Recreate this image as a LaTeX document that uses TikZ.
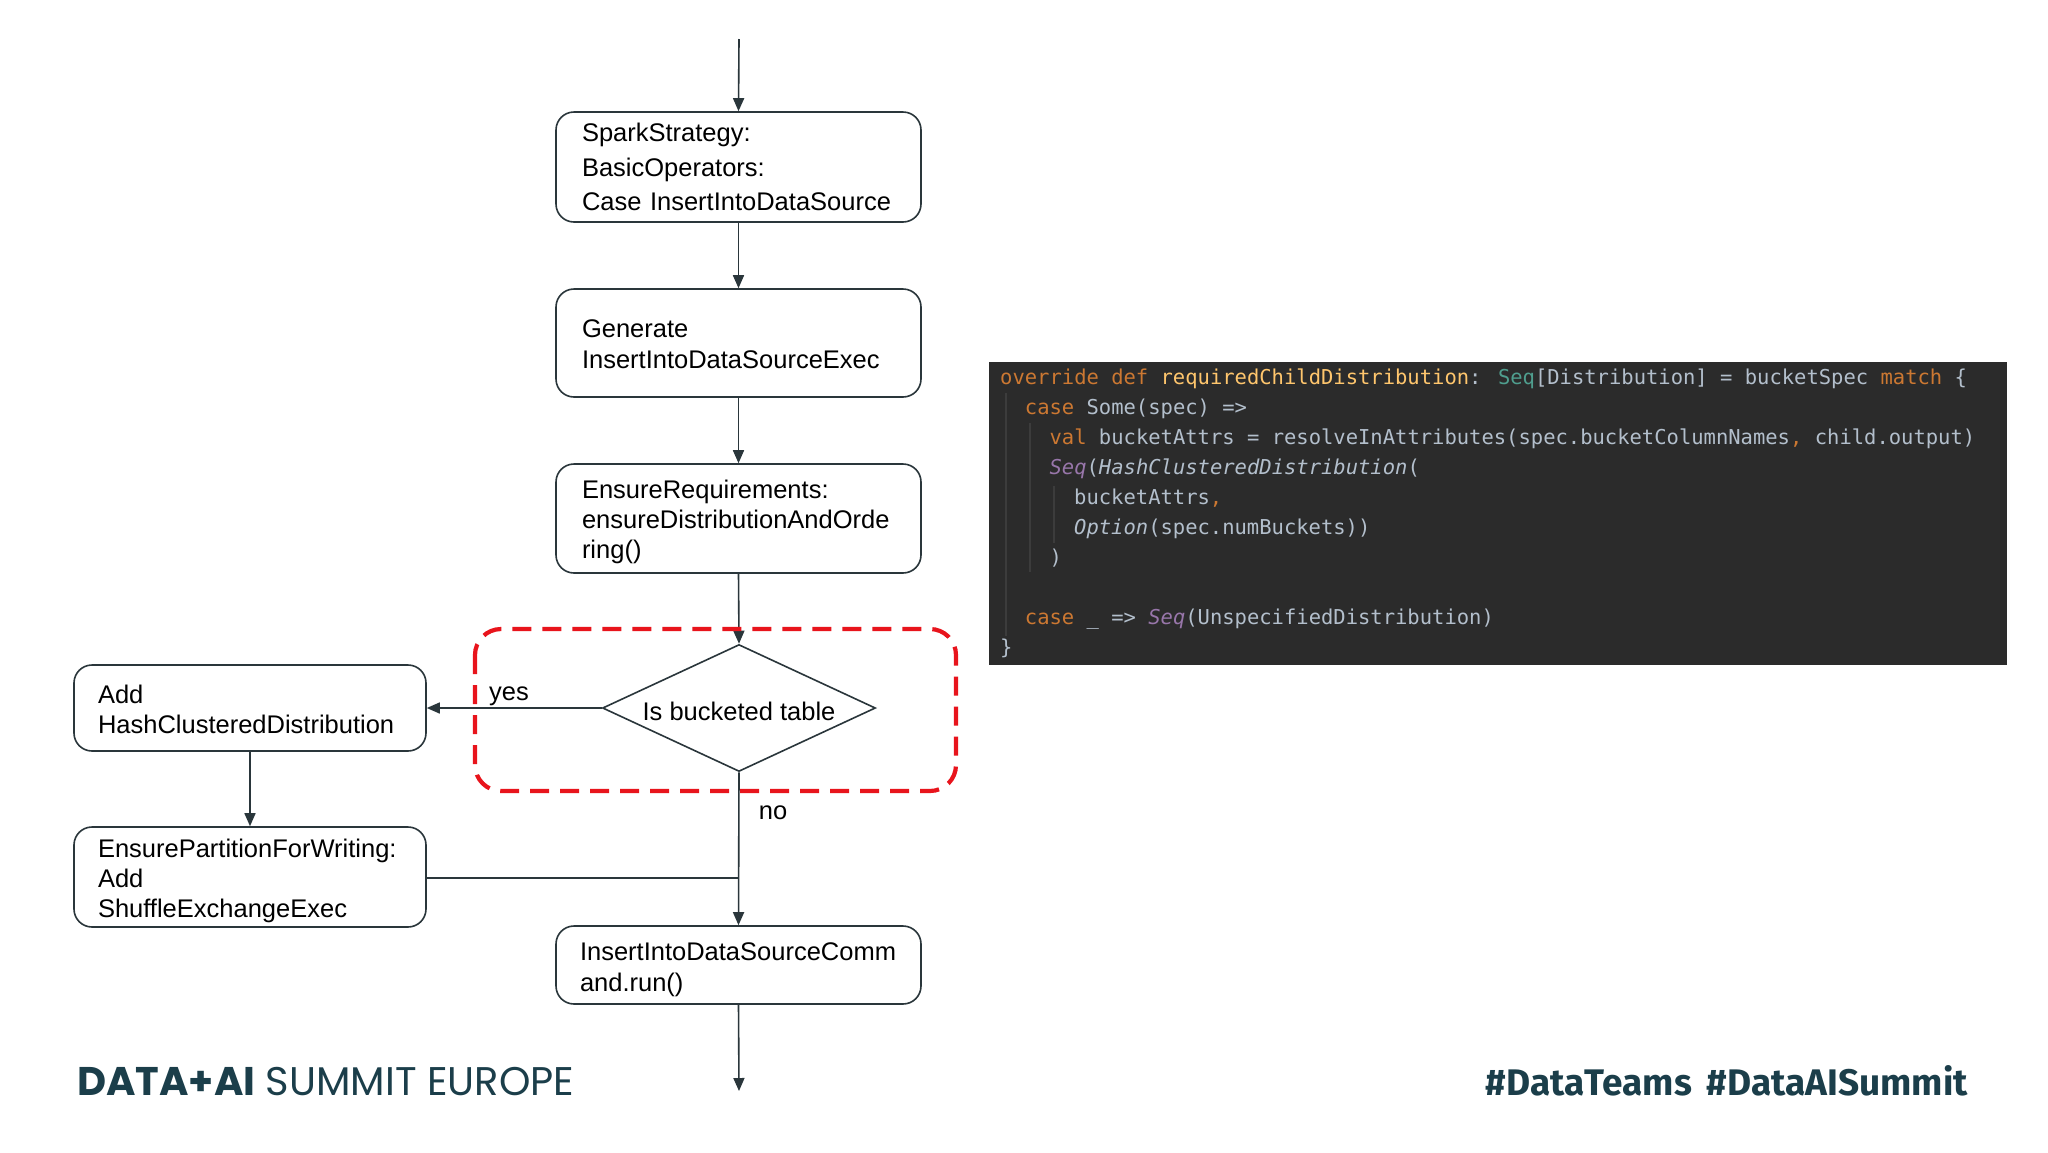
\documentclass[tikz,border=0pt]{standalone}
\usepackage{fontspec}
\setmainfont{Liberation Sans}
\newfontfamily\codefont{DejaVu Sans Mono}
\newfontfamily\brandfont{Poppins}
\newfontfamily\tagfont{Fira Sans}
\usetikzlibrary{shapes.geometric,arrows.meta}
\definecolor{ink}{HTML}{2A363B}
\definecolor{dashred}{HTML}{E8141C}
\definecolor{codebg}{HTML}{2B2B2B}
\definecolor{codetx}{HTML}{B3BFCC}
\definecolor{codekw}{HTML}{CC7832}
\definecolor{codefn}{HTML}{FFC66D}
\definecolor{codety}{HTML}{4F9E8E}
\definecolor{codepu}{HTML}{9876AA}
\definecolor{guide}{HTML}{3C3C3C}
\definecolor{brand}{HTML}{1B3E4A}
\newcommand{\kw}[1]{\textcolor{codekw}{#1}}
\newcommand{\fn}[1]{\textcolor{codefn}{#1}}
\newcommand{\ty}[1]{\textcolor{codety}{#1}}
\newcommand{\pu}[1]{\textcolor{codepu}{\itshape #1}}
\newcommand{\itx}[1]{{\itshape #1}}
\begin{document}
\begin{tikzpicture}[x=1pt,y=-1pt,
  flowbox/.style={draw=ink,line width=1.6pt,rounded corners=18pt,
    inner sep=0pt,anchor=center},
  boxtext/.style={align=left,inner sep=0pt,anchor=center,
    font=\fontsize{25.5}{30}\selectfont},
  decision/.style={draw=ink,line width=1.6pt,diamond,aspect=2.15,minimum width=273pt,
    minimum height=127pt,inner sep=0pt},
  conn/.style={draw=ink,line width=1.6pt},
  arr/.style={conn,-{Triangle[length=13pt,width=11pt]}},
  lbl/.style={font=\fontsize{25.5}{31}\selectfont,inner sep=0pt},
  codeline/.style={anchor=base west,inner sep=0pt,text=codetx,
    font=\codefont\fontsize{20.5}{30}\selectfont},
  guideline/.style={draw=guide,line width=1.5pt}
]
\useasboundingbox (0,0) rectangle (2048,1152);
\fill[white] (0,0) rectangle (2048,1152);

% ---------- flowchart ----------
\coordinate (top) at (739,39);
\node[flowbox,minimum width=365pt,minimum height=110pt] (b1) at (738.5,167) {};
\node[boxtext,text width=313pt,font=\fontsize{25.5}{34.6}\selectfont] (t1) at (b1.center)
  {SparkStrategy:\\BasicOperators:\\Case InsertIntoDataSource};
\node[flowbox,minimum width=365pt,minimum height=108pt] (b2) at (738.5,343) {};
\node[boxtext,text width=313pt,font=\fontsize{25.5}{31}\selectfont,yshift=-1pt] (t2) at (b2.center)
  {Generate\\InsertIntoDataSourceExec};
\node[flowbox,minimum width=365pt,minimum height=109pt] (b3) at (738.5,518.5) {};
\node[boxtext,text width=313pt,yshift=-3pt] (t3) at (b3.center)
  {EnsureRequirements:\\ensureDistributionAndOrde\\ring()};
\node[decision] (d) at (739,708) {};
\node[boxtext,yshift=-3pt] (td) at (d.center) {Is bucketed table};
\node[flowbox,minimum width=352pt,minimum height=86pt] (add) at (250,708) {};
\node[boxtext,text width=304pt,yshift=-1.5pt] (tadd) at (add.center)
  {Add\\HashClusteredDistribution};
\node[flowbox,minimum width=352pt,minimum height=100pt] (ens) at (250,877) {};
\node[boxtext,text width=304pt,yshift=-4pt] (tens) at (ens.center)
  {EnsurePartitionForWriting:\\Add\\ShuffleExchangeExec};
\node[flowbox,minimum width=365pt,minimum height=78pt] (fin) at (738.5,965) {};
\node[boxtext,text width=317pt,font=\fontsize{25.5}{31}\selectfont,yshift=-5pt] (tfin) at (fin.center)
  {InsertIntoDataSourceComm\\and.run()};
\coordinate (join) at (739,878);
\coordinate (bottom) at (739,1091);

\draw[arr] (top) -- (b1.north);
\draw[arr] (b1.south) -- (b2.north);
\draw[arr] (b2.south) -- (b3.north);
\draw[arr] (b3.south) -- (d.north);
\draw[arr] (d.west) -- (add.east);
\draw[arr] (add.south) -- (ens.north);
\draw[arr] (d.south) -- (fin.north);
\draw[conn] (ens.east |- join) -- (join);
\draw[arr] (fin.south) -- (bottom);

\node[lbl] (yes) at (509,696) {yes};
\node[lbl] (no) at (773,813) {no};

% dashed highlight
\draw[dashred,line width=4.2pt,dash pattern=on 19pt off 11pt,rounded corners=26pt]
  (475,629) rectangle (956,791);

% ---------- code block ----------
\fill[codebg] (989,362) rectangle (2007,665);
\draw[guideline] (1006,393) -- (1006,636);
\draw[guideline] (1030,423) -- (1030,572);
\draw[guideline] (1054,486) -- (1054,543);
\node[codeline] (c1) at (1000,384) {\kw{override} \kw{def} \fn{requiredChildDistribution}: \ty{Seq}[Distribution] = bucketSpec \kw{match} \{};
\node[codeline] (c2) at (1024.7,414) {\kw{case} Some(spec) =>};
\node[codeline] (c3) at (1049.4,444) {\kw{val} bucketAttrs = resolveInAttributes(spec.bucketColumnNames\kw{,} child.output)};
\node[codeline] (c4) at (1049.4,474) {\pu{Seq}(\itx{HashClusteredDistribution}(};
\node[codeline] (c5) at (1074,504) {bucketAttrs\kw{,}};
\node[codeline] (c6) at (1074,534) {\itx{Option}(spec.numBuckets))};
\node[codeline] (c7) at (1049.4,564) {)};
\node[codeline] (c9) at (1024.7,624) {\kw{case} \_ => \pu{Seq}(UnspecifiedDistribution)};
\node[codeline] (c10) at (1000,654) {\}};

% ---------- footer ----------
\node[anchor=base west,inner sep=0pt,text=brand,font=\brandfont\fontsize{40}{46}\selectfont]
  (brandl) at (77,1095) {\textbf{DATA+AI} SUMMIT EUROPE};
\node[anchor=base east,inner sep=0pt,text=brand,font=\tagfont\bfseries\fontsize{37}{44}\selectfont]
  (brandr) at (1968,1095) {\#DataTeams\hspace{15pt}\#DataAISummit};
\end{tikzpicture}
\end{document}
